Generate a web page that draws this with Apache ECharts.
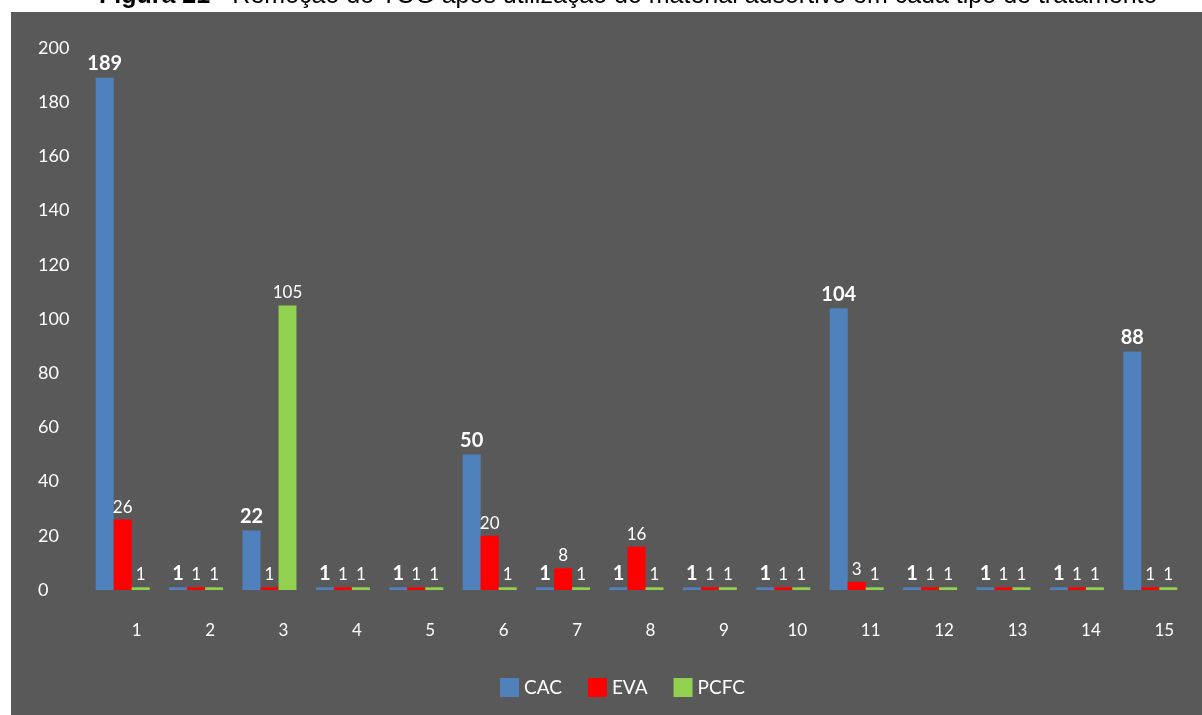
<!DOCTYPE html>
<html>
<head>
<meta charset="utf-8">
<script src="https://cdn.jsdelivr.net/npm/echarts@6/dist/echarts.min.js"></script>
<style>
  html, body { margin: 0; padding: 0; background: #ffffff; }
  #chart { width: 1202px; height: 715px; }
</style>
</head>
<body>
<div id="chart"></div>
<script>
// Treatments 1..15 and TOG removal per adsorbent material
const categories = ['1', '2', '3', '4', '5', '6', '7', '8', '9', '10', '11', '12', '13', '14', '15'];
const cac  = [189, 1, 22, 1, 1, 50, 1, 1, 1, 1, 104, 1, 1, 1, 88];
const eva  = [26, 1, 1, 1, 1, 20, 8, 16, 1, 1, 3, 1, 1, 1, 1];
const pcfc = [1, 1, 105, 1, 1, 1, 1, 1, 1, 1, 1, 1, 1, 1, 1];
const seriesNames = ['CAC', 'EVA', 'PCFC'];
const yTicks = { min: 0, max: 200, interval: 20 };

const FONT = 'Lato, "Open Sans", sans-serif';
const chart = echarts.init(document.getElementById('chart'), null, { renderer: 'canvas' });

function barSeries(name, data, color, bold) {
  return {
    name: name,
    type: 'bar',
    data: data,
    barWidth: 18,
    barGap: '0%',
    itemStyle: { color: color },
    label: {
      show: true,
      position: 'top',
      distance: 4,
      color: '#ffffff',
      fontFamily: FONT,
      fontSize: bold ? 20 : 17,
      fontWeight: bold ? 'bold' : 'normal'
    }
  };
}

chart.setOption({
  backgroundColor: '#ffffff',
  animation: false,
  title: {
    text: '{b|Figura 21 -} Remoção do TOG após utilização do material adsortivo em cada tipo de tratamento',
    left: 94,
    top: -21,
    textStyle: {
      fontFamily: '"Liberation Sans", Arial, sans-serif',
      fontSize: 25,
      fontWeight: 'normal',
      color: '#000000',
      rich: { b: { fontFamily: '"Liberation Sans", Arial, sans-serif', fontSize: 25, fontWeight: 'bold', color: '#000000' } }
    }
  },
  graphic: [{
    type: 'rect',
    z: -10,
    shape: { x: 11, y: 12, width: 1191, height: 703 },
    style: { fill: '#595959' }
  }],
  legend: {
    data: seriesNames,
    left: 495,
    top: 673,
    icon: 'rect',
    itemWidth: 19,
    itemHeight: 19,
    itemGap: 26,
    textStyle: { color: '#ffffff', fontFamily: FONT, fontSize: 19 }
  },
  grid: { left: 86, right: 15, top: 48, bottom: 125 },
  xAxis: {
    type: 'category',
    data: categories,
    axisLine: { show: false },
    axisTick: { show: false },
    axisLabel: {
      color: '#ffffff',
      fontFamily: FONT,
      fontSize: 17,
      margin: 32,
      padding: [0, 0, 0, 28]
    }
  },
  yAxis: {
    type: 'value',
    min: yTicks.min,
    max: yTicks.max,
    interval: yTicks.interval,
    splitLine: { show: false },
    axisLine: { show: false },
    axisTick: { show: false },
    axisLabel: {
      color: '#ffffff',
      fontFamily: FONT,
      fontSize: 18,
      align: 'left',
      margin: 48
    }
  },
  series: [
    barSeries(seriesNames[0], cac, '#4F81BD', true),
    barSeries(seriesNames[1], eva, '#FF0000', false),
    barSeries(seriesNames[2], pcfc, '#92D050', false)
  ]
});
</script>
</body>
</html>
